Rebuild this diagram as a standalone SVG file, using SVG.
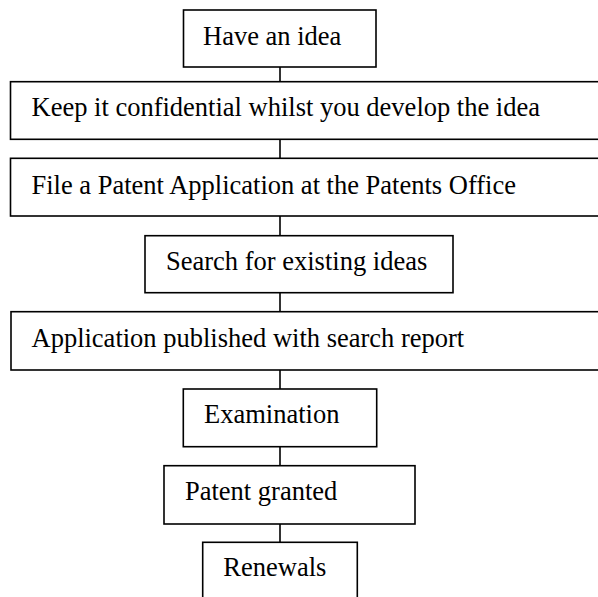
<svg xmlns="http://www.w3.org/2000/svg" width="598" height="597" viewBox="0 0 598 597">
<style>
.box{fill:#fff;stroke:#000;stroke-width:1.6}
.lbl{font-family:"Liberation Serif","Times New Roman",serif;font-size:26.5px;fill:#000}
.conn line{stroke:#000;stroke-width:1.6}
</style>
<rect width="598" height="597" fill="#fff"/>
<g class="conn" id="connectors">
<line x1="280" y1="62" x2="280" y2="82"/>
<line x1="280" y1="139" x2="280" y2="158"/>
<line x1="280" y1="216" x2="280" y2="236"/>
<line x1="280" y1="293" x2="280" y2="312"/>
<line x1="280" y1="370" x2="280" y2="389"/>
<line x1="280" y1="447" x2="280" y2="466"/>
<line x1="280" y1="524" x2="280" y2="542"/>
</g>
<g id="n1"><rect class="box" x="183.5" y="10" width="192.5" height="57"/><text class="lbl" x="203" y="45">Have an idea</text></g>
<g id="n2"><rect class="box" x="10.5" y="81.7" width="600" height="57.6"/><text class="lbl" x="31.5" y="116.3">Keep it confidential whilst you develop the idea</text></g>
<g id="n3"><rect class="box" x="10.5" y="158.3" width="600" height="57.7"/><text class="lbl" x="31.5" y="194">File a Patent Application at the Patents Office</text></g>
<g id="n4"><rect class="box" x="145" y="235.7" width="308" height="57"/><text class="lbl" x="166" y="270">Search for existing ideas</text></g>
<g id="n5"><rect class="box" x="11" y="311.7" width="600" height="58.3"/><text class="lbl" x="31.5" y="346.7">Application published with search report</text></g>
<g id="n6"><rect class="box" x="183.3" y="389" width="193.4" height="57.7"/><text class="lbl" x="204" y="423.3">Examination</text></g>
<g id="n7"><rect class="box" x="164" y="465.7" width="251" height="58.3"/><text class="lbl" x="185" y="500">Patent granted</text></g>
<g id="n8"><rect class="box" x="202.7" y="542.3" width="154.6" height="70"/><text class="lbl" x="223.3" y="576">Renewals</text></g>
</svg>
